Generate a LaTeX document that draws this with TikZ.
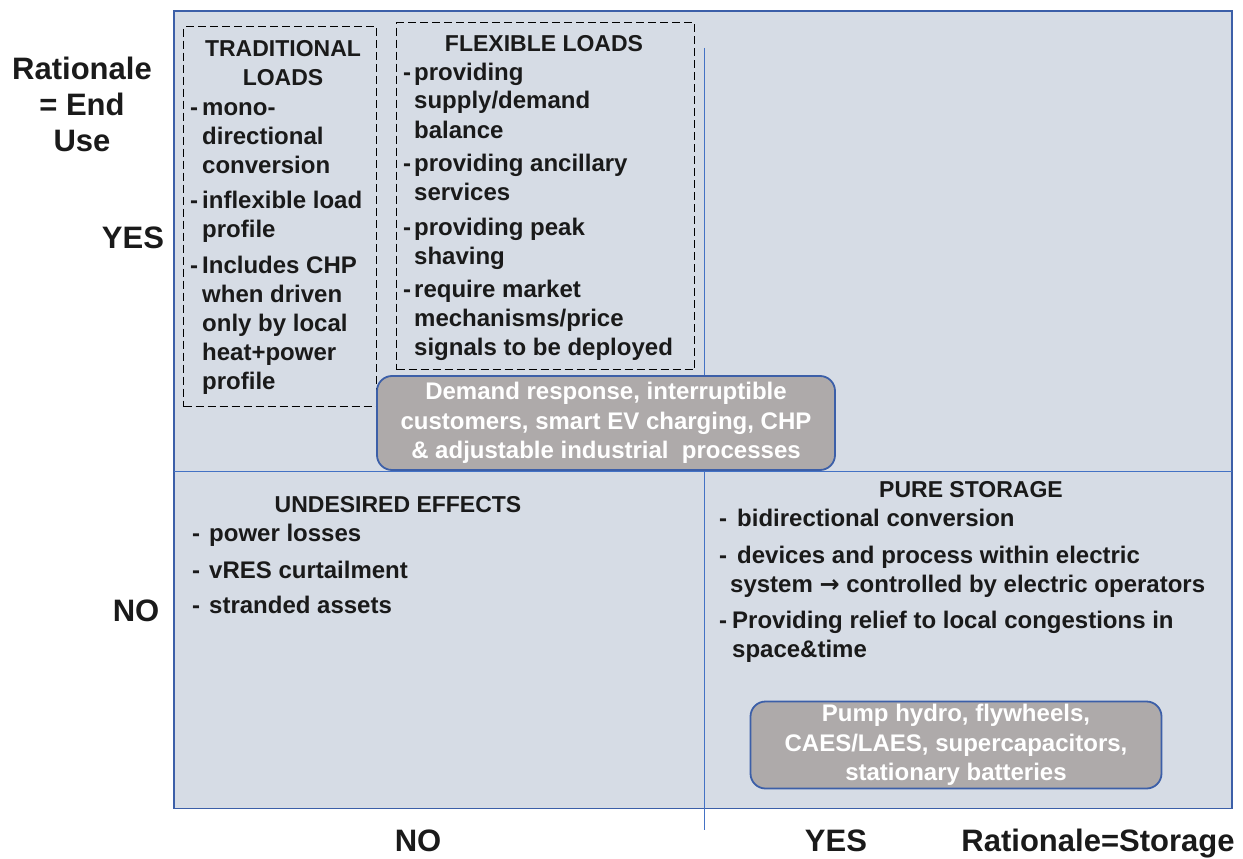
\documentclass[tikz,border=0pt]{standalone}
\usepackage{fontspec}
\setmainfont{Liberation Sans}
\newfontfamily\arrowfont{DejaVu Sans}
\definecolor{panel}{HTML}{D6DCE5}
\definecolor{frameblue}{HTML}{3C5FA8}
\definecolor{lineblue}{HTML}{4472C4}
\definecolor{boxgray}{HTML}{AEAAAA}
\definecolor{ink}{HTML}{1A1A1A}
\tikzset{
  body/.style={font=\fontsize{24}{29}\selectfont\bfseries, align=left, inner sep=0pt, anchor=base west, text=ink},
  ttl/.style={font=\fontsize{23}{29}\selectfont\bfseries, align=center, inner sep=0pt, anchor=base, text=ink},
  axislbl/.style={font=\fontsize{31}{36}\selectfont\bfseries, align=center, inner sep=0pt, anchor=base, text=ink},
  dashbox/.style={draw=black, dash pattern=on 8pt off 4pt, line width=1.4pt},
  grayb/.style={draw=frameblue, fill=boxgray, rounded corners=15pt, line width=1.8pt, text=white,
    font=\fontsize{24}{29.5}\selectfont\bfseries, align=center, inner sep=0pt},
}
\begin{document}
\begin{tikzpicture}[x=1pt,y=-1pt]
\useasboundingbox (0,0) rectangle (1243,859);
% main panel
\draw[frameblue, fill=panel, line width=1.8pt] (174,11) rectangle (1232,808.5);
\coordinate (hl) at (174,471);
\coordinate (hr) at (1232,471);
\coordinate (vt) at (704,48);
\coordinate (vb) at (704,830);
\draw[lineblue, line width=1pt] (hl) -- (hr);
\draw[lineblue, line width=1pt] (vt) -- (vb);
% dashed boxes
\node (trad) [dashbox, anchor=north west, minimum width=193pt, minimum height=380pt] at (183,26) {};
\node (flex) [dashbox, anchor=north west, minimum width=298pt, minimum height=347pt] at (396,22) {};
% gray rounded boxes
\node (demand) [grayb, minimum width=458pt, minimum height=94pt] at (606,423)
  {Demand response, interruptible\\customers, smart EV charging, CHP\\\&~adjustable industrial~~processes};
\node (pump) [grayb, minimum width=411pt, minimum height=87pt] at (956,745)
  {Pump hydro, flywheels,\\CAES/LAES, supercapacitors,\\stationary batteries};
% axis labels (base anchor = baseline of last line)
\node (ratend) [axislbl] at (82,151) {Rationale\\= End\\Use};
\node (yesl) [axislbl] at (133,248) {YES};
\node (nol) [axislbl] at (136,621) {NO};
\node (nob) [axislbl] at (418,851) {NO};
\node (yesb) [axislbl] at (836,851) {YES};
\node (ratsto) [axislbl] at (1098,851) {Rationale=Storage};
% traditional loads
\node (tradt) [ttl] at (283,85) {TRADITIONAL\\LOADS};
\node (trad1) [body] at (202,173) {\llap{-\hspace{4pt}}mono-\\directional\\conversion};
\node (trad2) [body] at (202,237) {\llap{-\hspace{4pt}}inflexible load\\profile};
\node (trad3) [body] at (202,389) {\llap{-\hspace{4pt}}Includes CHP\\when driven\\only by local\\heat+power\\profile};
% flexible loads
\node (flext) [ttl] at (544,51.5) {FLEXIBLE LOADS};
\node (flex1) [body] at (414,138) {\llap{-\hspace{3pt}}providing\\supply/demand\\balance};
\node (flex2) [body] at (414,200) {\llap{-\hspace{3pt}}providing ancillary\\services};
\node (flex3) [body] at (414,264) {\llap{-\hspace{3pt}}providing peak\\shaving};
\node (flex4) [body] at (414,355) {\llap{-\hspace{3pt}}require market\\mechanisms/price\\signals to be deployed};
% undesired effects
\node (undt) [ttl] at (398,512) {UNDESIRED EFFECTS};
\node (und1) [body] at (209,541) {\llap{-\hspace{9pt}}power losses};
\node (und2) [body] at (209,578) {\llap{-\hspace{9pt}}vRES curtailment};
\node (und3) [body] at (209,613) {\llap{-\hspace{9pt}}stranded assets};
% pure storage
\node (puret) [ttl] at (971,497) {PURE STORAGE};
\node (pure1) [body] at (737,526) {\llap{-\hspace{10pt}}bidirectional conversion};
\node (pure2) [body] at (730,592) {\llap{-\hspace{3pt}}\hspace{7pt}devices and process within electric\\system {\arrowfont\char"2192} controlled by electric operators};
\node (pure3) [body] at (732,657) {\llap{-\hspace{5pt}}Providing relief to local congestions in\\space\&time};
\end{tikzpicture}
\end{document}
